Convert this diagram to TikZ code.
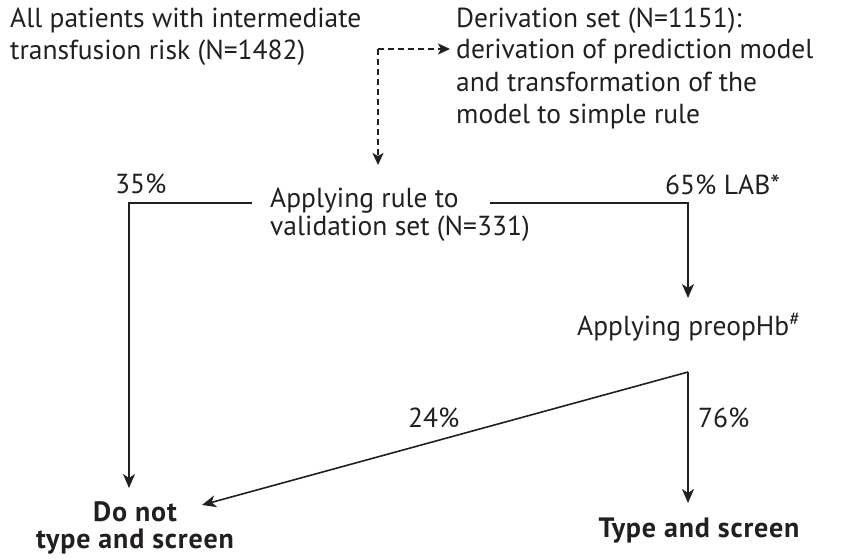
\documentclass[tikz,border=0pt]{standalone}
\usepackage{fontspec}
\setmainfont{PT Sans}
\usetikzlibrary{arrows.meta,calc}
\definecolor{ink}{HTML}{231F20}
\begin{document}
\begin{tikzpicture}[x=1pt,y=-1pt,color=ink,
  lbl/.style={inner sep=0pt, font=\fontsize{27.5}{32}\selectfont, align=left},
  outcome/.style={inner sep=0pt, font=\bfseries\fontsize{28}{27}\selectfont\addfontfeature{LetterSpace=3}, align=center},
  flow/.style={line width=1.6pt, -{Stealth[length=14pt,width=12pt,inset=4pt]}},
  dashflow/.style={line width=1.6pt, dash pattern=on 6pt off 4pt, -{Stealth[length=12pt,width=11pt,inset=3pt]}}]
\useasboundingbox (0,0) rectangle (858,559);

% text blocks (base anchor = baseline of the last line)
\node[lbl, anchor=base west] (all) at (10,60) {All patients with intermediate\\transfusion risk (N=1482)};
\node[lbl, anchor=base west] (deriv) at (456,123) {Derivation set (N=1151):\\derivation of prediction model\\and transformation of the\\model to simple rule};
\node[lbl, anchor=base west, font=\fontsize{27.5}{28}\selectfont] (rule) at (270,235) {Applying rule to\\validation set (N=331)};
\node[lbl, anchor=base west] (hb) at (577,335) {Applying preopHb\textsuperscript{\#}};
\node[outcome, anchor=base] (dont) at (135,548) {Do not\\type and screen};
\node[outcome, anchor=base] (type) at (699,537) {Type and screen};

% branch labels
\node[lbl, anchor=base west] (p35) at (115,193) {35\%};
\node[lbl, anchor=base west] (p65) at (665,194) {65\% LAB*};
\node[lbl, anchor=base west] (p24) at (408,427) {24\%};
\node[lbl, anchor=base west] (p76) at (698,427) {76\%};

% dashed split of the whole cohort
\coordinate (split) at (378,49);
\draw[dashflow, shorten >=6pt] (split) -- (split -| deriv.west);
\coordinate (valin) at (378,165);
\draw[dashflow] (split) -- (valin);

% left branch of the rule
\coordinate (lstart) at (252,203);
\coordinate (lcorner) at (129,203);
\coordinate (lend) at (129,488);
\draw[flow] (lstart) -- (lcorner) -- (lend);

% right branch of the rule
\coordinate (rstart) at (490,203);
\coordinate (rcorner) at (688,203);
\coordinate (hbin) at (688,298);
\draw[flow] (rstart) -- (rcorner) -- (hbin);

% preoperative Hb split
\coordinate (fork) at (688,372);
\coordinate (typein) at (688,503);
\coordinate (dontin) at (202,505);
\draw[flow] (fork) -- (typein);
\draw[flow] (fork) -- (dontin);
\end{tikzpicture}
\end{document}
